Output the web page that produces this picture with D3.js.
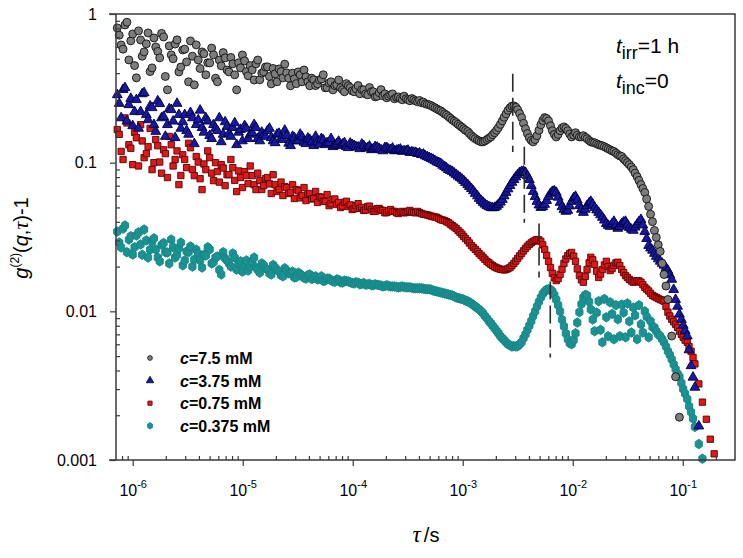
<!DOCTYPE html>
<html>
<head>
<meta charset="utf-8">
<script src="https://cdn.jsdelivr.net/npm/d3@7"></script>
<style>
  body { margin: 0; background: #fff; }
  text { font-family: "Liberation Sans", Arial, sans-serif; }
</style>
</head>
<body>
<svg id="chart" width="743" height="558"></svg>
<script>
// lag times (s), shared by all four runs
const tau = [
  7.24e-7, 7.85e-7, 8.51e-7, 9.23e-7, 1.00e-6, 1.08e-6, 1.18e-6, 1.27e-6, 1.38e-6, 1.50e-6,
  1.62e-6, 1.76e-6, 1.91e-6, 2.07e-6, 2.24e-6, 2.43e-6, 2.63e-6, 2.85e-6, 3.09e-6, 3.35e-6,
  3.63e-6, 3.94e-6, 4.27e-6, 4.62e-6, 5.01e-6, 5.43e-6, 5.89e-6, 6.38e-6, 6.92e-6, 7.50e-6,
  8.13e-6, 8.81e-6, 9.55e-6, 1.04e-5, 1.12e-5, 1.22e-5, 1.32e-5, 1.43e-5, 1.55e-5, 1.68e-5,
  1.82e-5, 1.97e-5, 2.14e-5, 2.32e-5, 2.51e-5, 2.72e-5, 2.95e-5, 3.20e-5, 3.47e-5, 3.76e-5,
  4.07e-5, 4.42e-5, 4.79e-5, 5.19e-5, 5.62e-5, 6.10e-5, 6.61e-5, 7.16e-5, 7.76e-5, 8.41e-5,
  9.12e-5, 9.89e-5, 1.07e-4, 1.16e-4, 1.26e-4, 1.37e-4, 1.48e-4, 1.60e-4, 1.74e-4, 1.88e-4,
  2.04e-4, 2.21e-4, 2.40e-4, 2.60e-4, 2.82e-4, 3.06e-4, 3.31e-4, 3.59e-4, 3.89e-4, 4.22e-4,
  4.57e-4, 4.96e-4, 5.37e-4, 5.82e-4, 6.31e-4, 6.84e-4, 7.41e-4, 8.04e-4, 8.71e-4, 9.44e-4,
  1.02e-3, 1.11e-3, 1.20e-3, 1.30e-3, 1.41e-3, 1.53e-3, 1.66e-3, 1.80e-3, 1.95e-3, 2.11e-3,
  2.29e-3, 2.48e-3, 2.69e-3, 2.92e-3, 3.16e-3, 3.43e-3, 3.72e-3, 4.03e-3, 4.37e-3, 4.73e-3,
  5.13e-3, 5.56e-3, 6.03e-3, 6.53e-3, 7.08e-3, 7.67e-3, 8.32e-3, 9.02e-3, 9.77e-3, 1.06e-2,
  1.15e-2, 1.25e-2, 1.35e-2, 1.46e-2, 1.58e-2, 1.72e-2, 1.86e-2, 2.02e-2, 2.19e-2, 2.37e-2,
  2.57e-2, 2.79e-2, 3.02e-2, 3.27e-2, 3.55e-2, 3.85e-2, 4.17e-2, 4.52e-2, 4.90e-2, 5.31e-2,
  5.75e-2, 6.24e-2, 6.76e-2, 7.33e-2, 7.94e-2, 8.61e-2, 9.33e-2, 0.101, 0.110, 0.119,
  0.129, 0.140, 0.151, 0.164, 0.178, 0.193, 0.209
]

// g2(q,tau)-1 for c = 7.5 mM
const g7_5 = [
  0.806, 0.619, 0.844, 0.491, 0.734, 0.372, 0.669, 0.556, 0.746, 0.434,
  0.600, 0.507, 0.701, 0.309, 0.531, 0.628, 0.408, 0.573, 0.476, 0.659,
  0.334, 0.491, 0.556, 0.390, 0.469, 0.531, 0.350, 0.448, 0.507, 0.408,
  0.462, 0.309, 0.434, 0.484, 0.384, 0.421, 0.462, 0.361, 0.408, 0.441,
  0.339, 0.396, 0.427, 0.372, 0.402, 0.329, 0.366, 0.408, 0.350, 0.378,
  0.329, 0.361, 0.339, 0.366, 0.319, 0.344, 0.309, 0.334, 0.319, 0.300,
  0.329, 0.304, 0.314, 0.291, 0.309, 0.286, 0.300, 0.277, 0.295, 0.282,
  0.273, 0.286, 0.269, 0.277, 0.265, 0.269, 0.261, 0.265, 0.257, 0.253,
  0.249, 0.245, 0.238, 0.230, 0.223, 0.213, 0.204, 0.194, 0.186, 0.177,
  0.169, 0.162, 0.152, 0.145, 0.140, 0.138, 0.143, 0.149, 0.159, 0.172,
  0.191, 0.213, 0.234, 0.241, 0.227, 0.201, 0.169, 0.147, 0.138, 0.152,
  0.180, 0.201, 0.191, 0.164, 0.149, 0.164, 0.174, 0.164, 0.149, 0.159,
  0.149, 0.152, 0.145, 0.138, 0.136, 0.132, 0.130, 0.126, 0.122, 0.119,
  0.113, 0.110, 0.103, 0.0970, 0.0898, 0.0805, 0.0712, 0.0630, 0.0508, 0.0401,
  0.0314, 0.0253, 0.0177, 0.0120, 0.00682, 0.00363, 0.00194, null, null, null,
  null, null, null, null, null, null, null
]

// c = 3.75 mM
const g3_75 = [
  0.286, 0.200, 0.319, 0.245, 0.177, 0.265, 0.220, 0.295, 0.194, 0.234,
  0.162, 0.249, 0.204, 0.180, 0.227, 0.147, 0.210, 0.188, 0.164, 0.217,
  0.134, 0.194, 0.172, 0.200, 0.152, 0.180, 0.164, 0.138, 0.188, 0.157,
  0.172, 0.132, 0.167, 0.177, 0.145, 0.159, 0.172, 0.140, 0.154, 0.164,
  0.147, 0.136, 0.157, 0.143, 0.152, 0.130, 0.147, 0.140, 0.149, 0.134,
  0.143, 0.130, 0.138, 0.145, 0.132, 0.136, 0.128, 0.134, 0.130, 0.136,
  0.126, 0.132, 0.128, 0.124, 0.130, 0.126, 0.122, 0.128, 0.124, 0.120,
  0.126, 0.122, 0.120, 0.122, 0.119, 0.120, 0.117, 0.117, 0.115, 0.113,
  0.111, 0.108, 0.105, 0.101, 0.0985, 0.0940, 0.0898, 0.0871, 0.0831, 0.0794,
  0.0757, 0.0712, 0.0668, 0.0620, 0.0574, 0.0540, 0.0514, 0.0499, 0.0499, 0.0523,
  0.0565, 0.0630, 0.0701, 0.0769, 0.0831, 0.0871, 0.0858, 0.0769, 0.0639, 0.0548,
  0.0499, 0.0523, 0.0592, 0.0639, 0.0630, 0.0540, 0.0484, 0.0477, 0.0548, 0.0592,
  0.0514, 0.0462, 0.0514, 0.0548, 0.0499, 0.0462, 0.0428, 0.0389, 0.0372, 0.0402,
  0.0361, 0.0389, 0.0402, 0.0366, 0.0350, 0.0384, 0.0414, 0.0344, 0.0277, 0.0257,
  0.0234, 0.0217, 0.0204, 0.0188, 0.0164, 0.0120, 0.00955, 0.00804, 0.00682, 0.00430,
  0.00308, 0.00169, null, null, null, null, null
]

// c = 0.75 mM
const g0_75 = [
  0.167, 0.119, 0.200, 0.132, 0.0970, 0.147, 0.180, 0.108, 0.128, 0.0898,
  0.143, 0.101, 0.122, 0.0794, 0.132, 0.105, 0.0712, 0.113, 0.0926, 0.126,
  0.0818, 0.101, 0.0659, 0.0898, 0.108, 0.0757, 0.0871, 0.0970, 0.0701, 0.0831,
  0.0926, 0.0639, 0.0794, 0.0871, 0.0723, 0.0818, 0.0659, 0.0757, 0.0701, 0.0794,
  0.0620, 0.0712, 0.0659, 0.0601, 0.0680, 0.0630, 0.0574, 0.0649, 0.0601, 0.0556,
  0.0620, 0.0574, 0.0540, 0.0583, 0.0548, 0.0514, 0.0565, 0.0523, 0.0499, 0.0540,
  0.0507, 0.0484, 0.0514, 0.0492, 0.0477, 0.0507, 0.0484, 0.0470, 0.0492, 0.0477,
  0.0462, 0.0484, 0.0470, 0.0455, 0.0470, 0.0462, 0.0477, 0.0462, 0.0470, 0.0455,
  0.0448, 0.0441, 0.0434, 0.0428, 0.0414, 0.0408, 0.0395, 0.0377, 0.0361, 0.0340,
  0.0319, 0.0299, 0.0277, 0.0261, 0.0245, 0.0231, 0.0217, 0.0207, 0.0199, 0.0194,
  0.0191, 0.0191, 0.0197, 0.0210, 0.0227, 0.0245, 0.0265, 0.0282, 0.0295, 0.0304,
  0.0295, 0.0261, 0.0217, 0.0180, 0.0161, 0.0177, 0.0210, 0.0237, 0.0249, 0.0217,
  0.0174, 0.0157, 0.0191, 0.0231, 0.0207, 0.0169, 0.0191, 0.0217, 0.0188, 0.0204,
  0.0214, 0.0191, 0.0174, 0.0164, 0.0157, 0.0161, 0.0157, 0.0145, 0.0137, 0.0128,
  0.0124, 0.0120, 0.0117, 0.00987, 0.00884, 0.00818, 0.00735, 0.00669, 0.00619, 0.00539,
  0.00443, 0.00325, 0.00245, 0.00188, 0.00138, 0.00110, null
]

// c = 0.375 mM
const g0_375 = [
  0.0344, 0.0269, 0.0378, 0.0304, 0.0241, 0.0324, 0.0282, 0.0355, 0.0230, 0.0295,
  0.0261, 0.0217, 0.0288, 0.0249, 0.0304, 0.0230, 0.0265, 0.0204, 0.0253, 0.0273,
  0.0223, 0.0245, 0.0197, 0.0237, 0.0261, 0.0214, 0.0234, 0.0177, 0.0227, 0.0210,
  0.0245, 0.0191, 0.0217, 0.0204, 0.0188, 0.0214, 0.0197, 0.0182, 0.0204, 0.0191,
  0.0177, 0.0197, 0.0185, 0.0172, 0.0188, 0.0180, 0.0169, 0.0182, 0.0174, 0.0166,
  0.0177, 0.0169, 0.0164, 0.0172, 0.0161, 0.0166, 0.0159, 0.0164, 0.0157, 0.0161,
  0.0159, 0.0155, 0.0157, 0.0152, 0.0155, 0.0152, 0.0150, 0.0152, 0.0150, 0.0147,
  0.0150, 0.0147, 0.0147, 0.0145, 0.0147, 0.0145, 0.0145, 0.0143, 0.0143, 0.0143,
  0.0141, 0.0141, 0.0138, 0.0136, 0.0134, 0.0132, 0.0130, 0.0128, 0.0124, 0.0122,
  0.0120, 0.0117, 0.0113, 0.0108, 0.0103, 0.00970, 0.00898, 0.00832, 0.00770, 0.00712,
  0.00659, 0.00619, 0.00592, 0.00583, 0.00583, 0.00620, 0.00700, 0.00800, 0.00930, 0.0108,
  0.0124, 0.0136, 0.0141, 0.0136, 0.0120, 0.0100, 0.00793, 0.00649, 0.00601, 0.00712,
  0.00987, 0.0124, 0.0128, 0.0103, 0.00735, 0.0117, 0.00619, 0.00913, 0.0115, 0.00649,
  0.00884, 0.0111, 0.00669, 0.00856, 0.0106, 0.00649, 0.00818, 0.0100, 0.00669, 0.00782,
  0.00735, 0.00682, 0.00619, 0.00539, 0.00476, 0.00408, 0.00363, 0.00300, 0.00257, 0.00210,
  0.00167, 0.00128, 0.00102, null, null, null, null
]

// extra short-lag channels (denser sampling below 1 ms)
const tauFast = [
  7.54e-7, 8.17e-7, 8.86e-7, 9.61e-7, 1.04e-6, 1.13e-6, 1.22e-6, 1.33e-6, 1.44e-6, 1.56e-6,
  1.69e-6, 1.83e-6, 1.98e-6, 2.15e-6, 2.33e-6, 2.53e-6, 2.74e-6, 2.97e-6, 3.22e-6, 3.49e-6,
  3.78e-6, 4.10e-6, 4.44e-6, 4.81e-6, 5.22e-6, 5.66e-6, 6.13e-6, 6.65e-6, 7.20e-6, 7.81e-6,
  8.46e-6, 9.17e-6, 9.94e-6, 1.08e-5, 1.17e-5, 1.27e-5, 1.37e-5, 1.49e-5, 1.61e-5, 1.75e-5,
  1.89e-5, 2.05e-5, 2.23e-5, 2.41e-5, 2.62e-5, 2.84e-5, 3.07e-5, 3.33e-5, 3.61e-5, 3.91e-5,
  4.24e-5, 4.60e-5, 4.98e-5, 5.40e-5, 5.85e-5, 6.35e-5, 6.88e-5, 7.45e-5, 8.08e-5, 8.76e-5,
  9.49e-5, 1.03e-4, 1.12e-4, 1.21e-4, 1.31e-4, 1.42e-4, 1.54e-4, 1.67e-4, 1.81e-4, 1.96e-4,
  2.12e-4, 2.30e-4, 2.50e-4, 2.71e-4, 2.93e-4, 3.18e-4, 3.45e-4, 3.74e-4, 4.05e-4, 4.39e-4,
  4.76e-4, 5.16e-4, 5.59e-4, 6.06e-4, 6.57e-4, 7.12e-4, 7.72e-4, 8.37e-4, 9.07e-4, 9.83e-4
]

const g7_5Fast = [
  0.72, 0.58, 0.88, 0.66, 0.45, 0.77, 0.52, 0.63, 0.41, 0.69,
  0.56, 0.74, 0.38, 0.61, 0.50, 0.67, 0.44, 0.58, 0.35, 0.52,
  0.62, 0.43, 0.54, 0.47, 0.59, 0.37, 0.49, 0.55, 0.42, 0.51,
  0.39, 0.47, 0.53, 0.41, 0.45, 0.36, 0.49, 0.40, 0.44, 0.38,
  0.43, 0.35, 0.41, 0.46, 0.37, 0.40, 0.34, 0.39, 0.42, 0.35,
  0.37, 0.33, 0.36, 0.39, 0.32, 0.35, 0.33, 0.36, 0.31, 0.34,
  0.32, 0.30, 0.33, 0.31, 0.29, 0.32, 0.30, 0.28, 0.31, 0.29,
  0.28, 0.29, 0.275, 0.27, 0.28, 0.265, 0.27, 0.26, 0.262, 0.255,
  0.247, 0.242, 0.234, 0.226, 0.218, 0.209, 0.199, 0.190, 0.181, 0.173
]

const g3_75Fast = [
  0.25, 0.31, 0.19, 0.27, 0.22, 0.17, 0.29, 0.21, 0.24, 0.18,
  0.26, 0.20, 0.15, 0.23, 0.19, 0.25, 0.17, 0.21, 0.155, 0.20,
  0.18, 0.225, 0.16, 0.19, 0.145, 0.17, 0.20, 0.155, 0.175, 0.15,
  0.185, 0.16, 0.14, 0.17, 0.155, 0.18, 0.145, 0.16, 0.15, 0.17,
  0.14, 0.155, 0.145, 0.165, 0.135, 0.15, 0.14, 0.155, 0.137, 0.146,
  0.138, 0.15, 0.133, 0.142, 0.136, 0.145, 0.131, 0.139, 0.133, 0.128,
  0.135, 0.13, 0.127, 0.133, 0.125, 0.129, 0.124, 0.127, 0.122, 0.126,
  0.123, 0.125, 0.121, 0.123, 0.12, 0.121, 0.118, 0.117, 0.116, 0.114,
  0.1095, 0.1065, 0.103, 0.100, 0.096, 0.092, 0.0885, 0.085, 0.081, 0.0775
]

const g0_75Fast = [
  0.155, 0.105, 0.185, 0.125, 0.16, 0.095, 0.14, 0.115, 0.17, 0.10,
  0.13, 0.085, 0.115, 0.15, 0.095, 0.12, 0.082, 0.105, 0.135, 0.09,
  0.11, 0.078, 0.098, 0.12, 0.085, 0.10, 0.074, 0.092, 0.083, 0.105,
  0.076, 0.088, 0.068, 0.082, 0.095, 0.071, 0.085, 0.066, 0.078, 0.072,
  0.083, 0.064, 0.074, 0.069, 0.062, 0.071, 0.066, 0.058, 0.068, 0.061,
  0.057, 0.064, 0.059, 0.055, 0.061, 0.053, 0.057, 0.054, 0.051, 0.055,
  0.052, 0.049, 0.053, 0.050, 0.048, 0.051, 0.047, 0.049, 0.048, 0.046,
  0.0475, 0.047, 0.046, 0.0465, 0.046, 0.047, 0.0465, 0.046, 0.0462, 0.045,
  0.0445, 0.0437, 0.0431, 0.0421, 0.0411, 0.0401, 0.0386, 0.0369, 0.0350, 0.0330
]

const g0_375Fast = [
  0.029, 0.036, 0.025, 0.032, 0.027, 0.034, 0.024, 0.030, 0.026, 0.031,
  0.023, 0.028, 0.025, 0.021, 0.027, 0.024, 0.029, 0.022, 0.025, 0.020,
  0.026, 0.022, 0.024, 0.027, 0.021, 0.023, 0.019, 0.025, 0.022, 0.020,
  0.023, 0.021, 0.0185, 0.022, 0.020, 0.023, 0.019, 0.021, 0.0195, 0.018,
  0.0205, 0.019, 0.0175, 0.0195, 0.018, 0.0185, 0.017, 0.0178, 0.0168, 0.0175,
  0.0165, 0.0172, 0.0167, 0.016, 0.0166, 0.0162, 0.0158, 0.0163, 0.0156, 0.016,
  0.0157, 0.0154, 0.0156, 0.0153, 0.0151, 0.0153, 0.015, 0.0151, 0.0149, 0.0148,
  0.0148, 0.0147, 0.0146, 0.0146, 0.0146, 0.0145, 0.0144, 0.0143, 0.0143, 0.0142,
  0.0141, 0.0140, 0.0137, 0.0135, 0.0133, 0.0131, 0.0129, 0.0126, 0.0123, 0.0121
]

// extra long-lag channels (denser sampling in the oscillation range)
const tauSlow = [
  1.06e-3, 1.15e-3, 1.25e-3, 1.36e-3, 1.47e-3, 1.59e-3, 1.73e-3, 1.87e-3, 2.03e-3, 2.20e-3,
  2.38e-3, 2.58e-3, 2.80e-3, 3.04e-3, 3.29e-3, 3.57e-3, 3.87e-3, 4.20e-3, 4.55e-3, 4.93e-3,
  5.34e-3, 5.79e-3, 6.28e-3, 6.80e-3, 7.37e-3, 7.99e-3, 8.66e-3, 9.39e-3, 1.02e-2, 1.10e-2,
  1.20e-2, 1.30e-2, 1.41e-2, 1.52e-2, 1.65e-2, 1.79e-2, 1.94e-2, 2.10e-2, 2.28e-2, 2.47e-2,
  2.68e-2, 2.90e-2, 3.14e-2, 3.41e-2, 3.69e-2, 4.00e-2, 4.34e-2, 4.70e-2, 5.10e-2, 5.53e-2,
  5.99e-2, 6.50e-2, 7.04e-2, 7.63e-2, 8.27e-2, 8.97e-2, 9.72e-2, 0.105, 0.114, 0.124
]

const g7_5Slow = [
  0.165, 0.157, 0.148, 0.142, 0.138, 0.140, 0.146, 0.154, 0.165, 0.181,
  0.202, 0.225, 0.240, 0.236, 0.214, 0.184, 0.157, 0.141, 0.143, 0.165,
  0.192, 0.198, 0.177, 0.155, 0.155, 0.171, 0.170, 0.156, 0.153, 0.153,
  0.149, 0.148, 0.141, 0.137, 0.134, 0.131, 0.128, 0.124, 0.120, 0.116,
  0.111, 0.106, 0.100, 0.0935, 0.085, 0.076, 0.067, 0.057, 0.045, 0.035,
  0.028, 0.021, 0.0148, null, null, null, null, null, null, null
]

const g3_75Slow = [
  0.0735, 0.0690, 0.0645, 0.0597, 0.0556, 0.0525, 0.0505, 0.0496, 0.0508, 0.0542,
  0.0597, 0.0665, 0.0736, 0.0800, 0.0856, 0.0875, 0.0815, 0.0700, 0.0590, 0.0518,
  0.0505, 0.0556, 0.0620, 0.0645, 0.0585, 0.0505, 0.0470, 0.0510, 0.0580, 0.0560,
  0.0485, 0.0485, 0.0535, 0.0525, 0.0480, 0.0445, 0.0410, 0.0378, 0.0388, 0.0380,
  0.0372, 0.0398, 0.0382, 0.0356, 0.0368, 0.0400, 0.0380, 0.0308, 0.0266, 0.0245,
  0.0225, 0.0210, 0.0196, 0.0176, 0.0140, 0.0108, 0.0088, 0.0074, 0.0055, 0.0036
]

const g0_75Slow = [
  0.0309, 0.0288, 0.0269, 0.0253, 0.0238, 0.0224, 0.0212, 0.0203, 0.0196, 0.0192,
  0.0190, 0.0194, 0.0203, 0.0218, 0.0236, 0.0255, 0.0274, 0.0289, 0.0300, 0.0302,
  0.0280, 0.0238, 0.0197, 0.0168, 0.0166, 0.0192, 0.0225, 0.0245, 0.0235, 0.0193,
  0.0163, 0.0172, 0.0212, 0.0222, 0.0186, 0.0178, 0.0205, 0.0200, 0.0194, 0.0212,
  0.0203, 0.0182, 0.0169, 0.0160, 0.0158, 0.0160, 0.0151, 0.0141, 0.0132, 0.0126,
  0.0122, 0.0119, 0.0108, 0.0093, 0.0085, 0.0078, 0.0070, 0.0064, 0.0058, 0.0049
]

const g0_375Slow = [
  0.0118, 0.0115, 0.0110, 0.0105, 0.0100, 0.0093, 0.0086, 0.0080, 0.0074, 0.0068,
  0.0064, 0.0060, 0.0058, 0.0058, 0.0060, 0.0066, 0.0075, 0.0086, 0.0100, 0.0116,
  0.0131, 0.0140, 0.0140, 0.0129, 0.0110, 0.0088, 0.0071, 0.0061, 0.0064, 0.0084,
  0.0112, 0.0129, 0.0116, 0.0088, 0.0098, 0.0075, 0.0121, 0.0068, 0.0096, 0.0110,
  0.0068, 0.0098, 0.0113, 0.0072, 0.0094, 0.0110, 0.0072, 0.0092, 0.0086, 0.0078,
  0.0070, 0.0065, 0.0058, 0.0051, 0.0044, 0.0038, 0.0033, 0.0028, 0.0023, 0.0019
]

const concLabels = ["7.5", "3.75", "0.75", "0.375"]

// first-peak markers (dashed lines)
const peakTau = [2.85e-3, 3.63e-3, 4.94e-3, 6.25e-3]
const peakTop = [0.396, 0.128, 0.039, 0.0159]
const peakBottom = [0.118, 0.0395, 0.0169, 0.0049]

const xTickValues = [1e-6, 1e-5, 1e-4, 1e-3, 1e-2, 1e-1]
const xTickExp = ["-6", "-5", "-4", "-3", "-2", "-1"]
const yTickValues = [0.001, 0.01, 0.1, 1]

const allSeries = [g7_5, g3_75, g0_75, g0_375]
const allFast = [g7_5Fast, g3_75Fast, g0_75Fast, g0_375Fast]
const allSlow = [g7_5Slow, g3_75Slow, g0_75Slow, g0_375Slow]

// blunt hexagon for the lowest-concentration run
const symbolHex = {
  draw(context, size) {
    const r = Math.sqrt(size / 2.6)
    for (let k = 0; k < 6; k++) {
      const a = Math.PI / 2 + k * Math.PI / 3
      const px = r * 0.95 * Math.cos(a), py = -r * 1.08 * Math.sin(a)
      if (k == 0) context.moveTo(px, py); else context.lineTo(px, py)
    }
    context.closePath()
  }
}

const symbolTypes = [d3.symbolCircle, d3.symbolTriangle, d3.symbolSquare, symbolHex]
const symbolSizes = [50, 42, 40, 50]
const legendSizes = [18, 24, 18, 24]
const fills = ["#7d7d7d", "#1818a0", "#dc1a1a", "#1a9292"]
const strokes = ["#111", "#000040", "#5e0000", "#168585"]

const svg = d3.select("#chart")

const mLeft = 116, mRight = 735, mTop = 14, mBottom = 460

const x = d3.scaleLog().domain([7.05e-7, 0.2986]).range([mLeft, mRight])
const y = d3.scaleLog().domain([0.001, 1]).range([mBottom, mTop])

// data points, drawn so the first series ends up on top
const plot = svg.append("g")
d3.range(allSeries.length).reverse().forEach(s => {
  const pts = tau.map((t, i) => [t, allSeries[s][i]])
    .concat(tauFast.map((t, i) => [t, allFast[s][i]]))
    .concat(tauSlow.map((t, i) => [t, allSlow[s][i]]))
    .filter(d => d[1] != null)
    .sort((a, b) => a[0] - b[0])
  plot.append("g")
    .selectAll("path")
    .data(pts)
    .join("path")
    .attr("d", d3.symbol().type(symbolTypes[s]).size(symbolSizes[s]))
    .attr("transform", d => `translate(${x(d[0])},${y(d[1])})`)
    .attr("fill", fills[s])
    .attr("stroke", strokes[s])
    .attr("stroke-width", 0.9)
    .attr("stroke-linejoin", "round")
})

// dashed lines at the first peaks
svg.append("g")
  .selectAll("line")
  .data(peakTau)
  .join("line")
  .attr("x1", d => x(d))
  .attr("x2", d => x(d))
  .attr("y1", (d, i) => y(peakTop[i]))
  .attr("y2", (d, i) => y(peakBottom[i]))
  .attr("stroke", "#2a2a2a")
  .attr("stroke-width", 1.6)
  .attr("stroke-dasharray", "18,6")

// frame
const axisColor = "#3a3a3a"
svg.append("path")
  .attr("d", `M109,${mTop}H${mRight}V${mBottom}H109M${mLeft},${mTop}V${mBottom}`)
  .attr("fill", "none")
  .attr("stroke", axisColor)
  .attr("stroke-width", 1.5)

const isMinor = t => Math.abs(Math.log10(t) - Math.round(Math.log10(t))) > 0.01
const xMinor = x.ticks().filter(isMinor)
const yMinor = y.ticks().filter(isMinor)

function styleAxis(g) {
  g.select(".domain").remove()
  g.selectAll(".tick line").attr("stroke", axisColor).attr("stroke-width", 1.2)
}

svg.append("g")
  .attr("transform", `translate(0,${mBottom})`)
  .call(d3.axisBottom(x).tickValues(xMinor).tickSize(-4).tickFormat(""))
  .call(styleAxis)

svg.append("g")
  .attr("transform", `translate(${mLeft},0)`)
  .call(d3.axisLeft(y).tickValues(yMinor).tickSize(-4).tickFormat(""))
  .call(styleAxis)

const xAxisG = svg.append("g")
  .attr("transform", `translate(0,${mBottom})`)
  .call(d3.axisBottom(x).tickValues(xTickValues).tickSize(6).tickFormat(""))
  .call(styleAxis)

xAxisG.selectAll(".tick text")
  .attr("y", 36)
  .attr("dy", null)
  .attr("font-size", 16)
  .attr("font-family", "Liberation Sans, Arial, sans-serif")
  .attr("fill", "#000")
  .each(function(d, i) {
    const t = d3.select(this)
    t.append("tspan").text("10")
    t.append("tspan").attr("dy", -8).attr("font-size", 11).text(xTickExp[i])
  })

svg.append("g")
  .attr("transform", `translate(${mLeft},0)`)
  .call(d3.axisLeft(y).tickValues(yTickValues).tickSize(6).tickPadding(13).tickFormat(d3.format("~g")))
  .call(styleAxis)
  .call(g => g.selectAll(".tick text")
    .attr("font-size", 16)
    .attr("font-family", "Liberation Sans, Arial, sans-serif")
    .attr("fill", "#000"))

// axis titles
const xTitle = svg.append("text")
  .attr("x", 426)
  .attr("y", 542)
  .attr("text-anchor", "middle")
  .attr("font-size", 20)
xTitle.append("tspan").attr("font-family", "Liberation Serif, serif").attr("font-style", "italic").attr("font-size", 23).text("τ")
xTitle.append("tspan").attr("dx", 3).text("/s")

const yTitle = svg.append("text")
  .attr("transform", "translate(28,238) rotate(-90)")
  .attr("text-anchor", "middle")
  .attr("font-size", 20)
yTitle.append("tspan").attr("font-style", "italic").text("g")
yTitle.append("tspan").attr("font-size", 12).attr("dy", -9).text("(2)")
yTitle.append("tspan").attr("dy", 9).text("(")
yTitle.append("tspan").attr("font-style", "italic").text("q")
yTitle.append("tspan").text(",")
yTitle.append("tspan").attr("font-family", "Liberation Serif, serif").attr("font-style", "italic").attr("font-size", 22).text("τ")
yTitle.append("tspan").text(")-1")

// annotation
const notes = [["irr", "=1 h", 53], ["inc", "=0", 88]]
notes.forEach(n => {
  const t = svg.append("text").attr("x", 616).attr("y", n[2]).attr("font-size", 21)
  t.append("tspan").attr("font-style", "italic").text("t")
  t.append("tspan").attr("font-size", 18).attr("dy", 6).text(n[0])
  t.append("tspan").attr("dy", -6).attr("xml:space", "preserve").text(n[1])
})

// legend
const legend = svg.append("g")
concLabels.forEach((c, i) => {
  const yy = 358 + i * 22.6
  legend.append("path")
    .attr("d", d3.symbol().type(symbolTypes[i]).size(legendSizes[i]))
    .attr("transform", `translate(150,${yy})`)
    .attr("fill", fills[i])
    .attr("stroke", strokes[i])
    .attr("stroke-width", 0.8)
  const t = legend.append("text")
    .attr("x", 180)
    .attr("y", yy + 6)
    .attr("font-size", 16)
    .attr("font-weight", "bold")
  t.append("tspan").attr("font-style", "italic").text("c")
  t.append("tspan").text(`=${c} mM`)
})
</script>
</body>
</html>
